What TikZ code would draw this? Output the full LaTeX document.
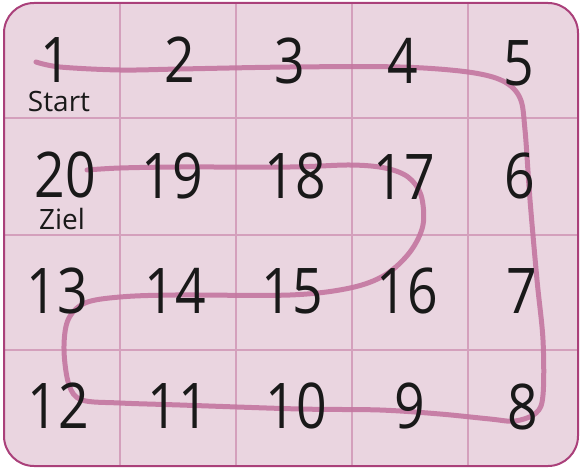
\documentclass[tikz,border=0pt]{standalone}
\usepackage{fontspec}
\newfontfamily\numfont[FakeStretch=0.85]{Open Sans}
\newfontfamily\lblfont{Open Sans}
\definecolor{bgpink}{RGB}{234,213,224}
\definecolor{frame}{RGB}{170,64,122}
\definecolor{gridc}{RGB}{212,160,188}
\definecolor{pathc}{RGB}{196,118,160}
\definecolor{ink}{RGB}{25,25,25}
\tikzset{
  num/.style={inner sep=0pt, text=ink, font=\numfont\fontsize{63}{63}\selectfont},
  lbl/.style={inner sep=0pt, text=ink, font=\lblfont\fontsize{28}{28}\selectfont},
  gridline/.style={draw=gridc, line width=1.2pt},
  route/.style={draw=pathc, line width=5pt, line cap=round, line join=round, opacity=0.9}
}
\begin{document}
\begin{tikzpicture}[x=1pt,y=-1pt]
\useasboundingbox (0,0) rectangle (580,468);
\fill[bgpink, rounded corners=30pt] (4,3) rectangle (578,466);
\begin{scope}
\clip[rounded corners=30pt] (4,3) rectangle (578,466);
\foreach \x in {120,236,352,468} \draw[gridline] (\x,3) -- (\x,466);
\foreach \y in {118,235,350} \draw[gridline] (4,\y) -- (578,\y);
\end{scope}
\draw[frame, line width=2pt, rounded corners=30pt] (4,3) rectangle (578,466);
% route
\draw[route] plot[smooth, tension=0.55] coordinates {
(36,62) (60,67) (120,70) (180,69) (290,67) (400,67) (468,72) (503,81) (520,98) (525,130)
(530,200) (537,280) (543,340) (543,395) (536,413) (515,421) (490,419) (440,414) (380,410)
(300,409) (180,405) (120,403) (82,400) (69,385) (64,350) (68,320) (85,303) (120,297) (175,295)
(290,295) (350,288) (385,275) (410,252) (423,225) (421,195) (408,177) (385,168) (350,165)
(290,167) (180,167) (120,168) (87,170)};
% numbers
\node[num] (n1) at (56,60) {1};
\node[num] (n2) at (180,60) {2};
\node[num] (n3) at (290,61) {3};
\node[num] (n4) at (403,61) {4};
\node[num] (n5) at (519,63) {5};
\node[num] (n20) at (65,175) {20};
\node[num] (n19) at (172,176) {19};
\node[num] (n18) at (295,176) {18};
\node[num] (n17) at (404,177) {17};
\node[num] (n6) at (520,176) {6};
\node[num] (n13) at (57,291) {13};
\node[num] (n14) at (175,291) {14};
\node[num] (n15) at (292,291) {15};
\node[num] (n16) at (407,291) {16};
\node[num] (n7) at (522,291) {7};
\node[num] (n12) at (58,406) {12};
\node[num] (n11) at (178,406) {11};
\node[num] (n10) at (296,406) {10};
\node[num] (n9) at (410,406) {9};
\node[num] (n8) at (523,407) {8};
\node[lbl, anchor=base] (start) at (59,111) {Start};
\node[lbl, anchor=base] (ziel) at (62,229) {Ziel};
\end{tikzpicture}
\end{document}
